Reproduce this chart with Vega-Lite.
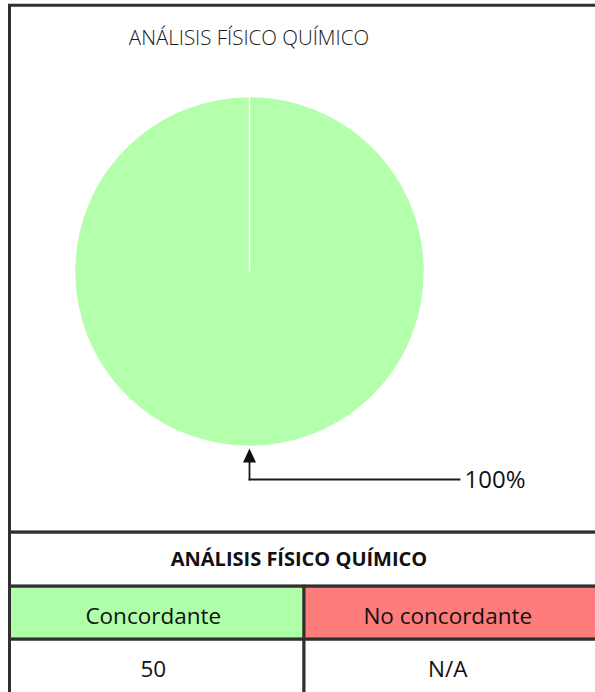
{
  "$schema": "https://vega.github.io/schema/vega-lite/v6.json",
  "padding": {"left": 6.5, "top": 3.25, "right": 0, "bottom": 0},
  "background": "white",
  "spacing": 0,
  "bounds": "flush",
  "config": {"view": {"stroke": "#303030", "strokeWidth": 3}, "concat": {"spacing": 0}},
  "datasets": {
    "pie": [
      {"categoria": "Concordante", "valor": 50, "etiqueta": "100%"},
      {"categoria": "No concordante", "valor": 0, "etiqueta": "0%"}
    ],
    "tabla": [
      {"fila": "encabezado", "columna": "Concordante", "texto": "Concordante"},
      {"fila": "encabezado", "columna": "No concordante", "texto": "No concordante"},
      {"fila": "valor", "columna": "Concordante", "texto": "50"},
      {"fila": "valor", "columna": "No concordante", "texto": "N/A"}
    ]
  },
  "resolve": {"scale": {"x": "independent", "y": "independent", "color": "independent"}},
  "vconcat": [
    {
      "width": 589,
      "height": 527,
      "layer": [
        {
          "data": {"name": "pie"},
          "mark": {"type": "arc", "outerRadius": 175, "stroke": "white", "strokeWidth": 1.5},
          "encoding": {
            "theta": {"field": "valor", "type": "quantitative", "stack": true},
            "color": {"field": "categoria", "type": "nominal", "scale": {"domain": ["Concordante", "No concordante"], "range": ["#B3FFAB", "#FF7F7F"]}, "legend": null},
            "x": {"datum": 0, "type": "quantitative", "scale": {"domain": [-137.14, 199.43], "nice": false, "zero": false}, "axis": null},
            "y": {"datum": 0, "type": "quantitative", "scale": {"domain": [-149.0, 152.14], "nice": false, "zero": false}, "axis": null}
          }
        },
        {
          "data": {"values": [{"titulo": "ANÁLISIS FÍSICO QUÍMICO"}]},
          "mark": {"type": "text", "font": "Open Sans", "fontWeight": 300, "fontSize": 20.5, "align": "center", "baseline": "alphabetic", "color": "#1a1a1a"},
          "encoding": {
            "text": {"field": "titulo"},
            "x": {"datum": -0.3, "type": "quantitative", "scale": {"domain": [-137.14, 199.43], "nice": false, "zero": false}, "axis": null},
            "y": {"datum": 129.71, "type": "quantitative", "scale": {"domain": [-149.0, 152.14], "nice": false, "zero": false}, "axis": null}
          }
        },
        {
          "data": {"name": "pie"},
          "transform": [{"filter": "datum.categoria == 'Concordante'"}],
          "mark": {"type": "rule", "color": "#1a1a1a", "strokeWidth": 1.8, "strokeCap": "square"},
          "encoding": {
            "x": {"datum": 0, "type": "quantitative", "scale": {"domain": [-137.14, 199.43], "nice": false, "zero": false}, "axis": null},
            "y": {"datum": -108.57, "type": "quantitative", "scale": {"domain": [-149.0, 152.14], "nice": false, "zero": false}, "axis": null},
            "y2": {"datum": -118.86}
          }
        },
        {
          "data": {"name": "pie"},
          "transform": [{"filter": "datum.categoria == 'Concordante'"}],
          "mark": {"type": "rule", "color": "#1a1a1a", "strokeWidth": 1.8, "strokeCap": "square"},
          "encoding": {
            "x": {"datum": 0, "type": "quantitative", "scale": {"domain": [-137.14, 199.43], "nice": false, "zero": false}, "axis": null},
            "x2": {"datum": 120},
            "y": {"datum": -118.86, "type": "quantitative", "scale": {"domain": [-149.0, 152.14], "nice": false, "zero": false}, "axis": null}
          }
        },
        {
          "data": {"name": "pie"},
          "transform": [{"filter": "datum.categoria == 'Concordante'"}],
          "mark": {"type": "point", "shape": "M0,-1L-0.93,1L0.93,1Z", "size": 196, "filled": true, "opacity": 1, "color": "#111111"},
          "encoding": {
            "x": {"datum": 0, "type": "quantitative", "scale": {"domain": [-137.14, 199.43], "nice": false, "zero": false}, "axis": null},
            "y": {"datum": -105.14, "type": "quantitative", "scale": {"domain": [-149.0, 152.14], "nice": false, "zero": false}, "axis": null}
          }
        },
        {
          "data": {"name": "pie"},
          "transform": [{"filter": "datum.categoria == 'Concordante'"}],
          "mark": {"type": "text", "font": "Open Sans", "fontSize": 24, "align": "left", "baseline": "alphabetic", "color": "#111111"},
          "encoding": {
            "text": {"field": "etiqueta"},
            "x": {"datum": 122.86, "type": "quantitative", "scale": {"domain": [-137.14, 199.43], "nice": false, "zero": false}, "axis": null},
            "y": {"datum": -123.43, "type": "quantitative", "scale": {"domain": [-149.0, 152.14], "nice": false, "zero": false}, "axis": null}
          }
        }
      ]
    },
    {
      "width": 589,
      "height": 54,
      "data": {"values": [{"titulo": "ANÁLISIS FÍSICO QUÍMICO"}]},
      "encoding": {
        "x": {"field": "titulo", "type": "nominal", "scale": {"paddingInner": 0, "paddingOuter": 0}, "axis": null}
      },
      "layer": [
        {
          "mark": {"type": "rect", "fill": "white", "stroke": "#303030", "strokeWidth": 3}
        },
        {
          "mark": {"type": "text", "font": "Open Sans", "fontWeight": "bold", "fontSize": 20, "dx": -5, "dy": 6.5, "align": "center", "baseline": "alphabetic", "color": "#111111"},
          "encoding": {"text": {"field": "titulo"}}
        }
      ]
    },
    {
      "width": 589,
      "height": 53,
      "data": {"name": "tabla"},
      "transform": [{"filter": "datum.fila == 'encabezado'"}],
      "encoding": {
        "x": {"field": "columna", "type": "nominal", "sort": ["Concordante", "No concordante"], "scale": {"paddingInner": 0, "paddingOuter": 0}, "axis": null}
      },
      "layer": [
        {
          "mark": {"type": "rect", "stroke": "#303030", "strokeWidth": 3},
          "encoding": {
            "fill": {"field": "columna", "type": "nominal", "scale": {"domain": ["Concordante", "No concordante"], "range": ["#AFFFA8", "#FF7C7C"]}, "legend": null}
          }
        },
        {
          "mark": {"type": "text", "font": "Open Sans", "fontSize": 22.5, "dx": -3.5, "dy": 10.75, "align": "center", "baseline": "alphabetic", "color": "#111111"},
          "encoding": {"text": {"field": "texto"}}
        }
      ]
    },
    {
      "width": 589,
      "height": 55,
      "data": {"name": "tabla"},
      "transform": [{"filter": "datum.fila == 'valor'"}],
      "encoding": {
        "x": {"field": "columna", "type": "nominal", "sort": ["Concordante", "No concordante"], "scale": {"paddingInner": 0, "paddingOuter": 0}, "axis": null}
      },
      "layer": [
        {
          "mark": {"type": "rect", "fill": "white", "stroke": "#303030", "strokeWidth": 3}
        },
        {
          "mark": {"type": "text", "font": "Open Sans", "fontSize": 22.5, "dx": -3.5, "dy": 9.75, "align": "center", "baseline": "alphabetic", "color": "#111111"},
          "encoding": {"text": {"field": "texto"}}
        }
      ]
    }
  ]
}
